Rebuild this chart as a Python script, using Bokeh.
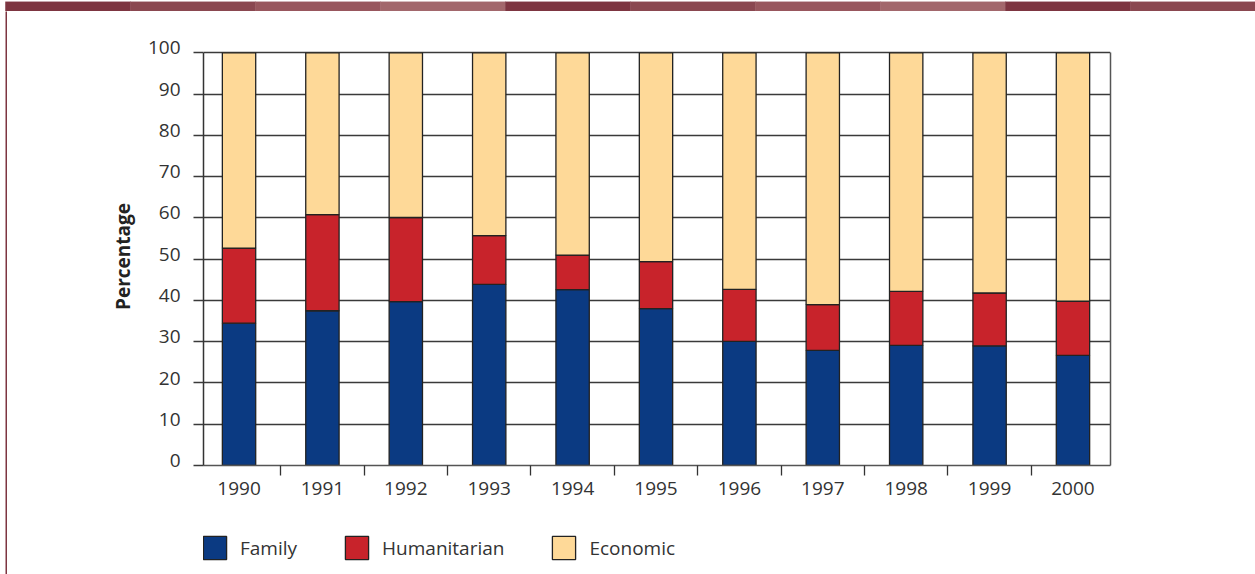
import numpy as np
from bokeh.plotting import figure
from bokeh.models import (Range1d, FixedTicker, LinearAxis, Legend, LegendItem,
                          CustomJSTickFormatter, ColumnDataSource)
from bokeh.layouts import column, row
from bokeh.embed import file_html
from bokeh.resources import INLINE

# ---- data ----
years = ["1990", "1991", "1992", "1993", "1994", "1995", "1996", "1997", "1998", "1999", "2000"]
family = [34.5, 37.5, 39.7, 43.9, 42.6, 38.0, 30.1, 27.9, 29.1, 29.0, 26.7]
humanitarian = [18.2, 23.3, 20.4, 11.8, 8.4, 11.4, 12.6, 11.1, 13.1, 12.8, 13.1]
economic = [47.3, 39.2, 39.9, 44.3, 49.0, 50.6, 57.3, 61.0, 57.8, 58.2, 60.2]
series_names = ["Family", "Humanitarian", "Economic"]
series_colors = ["#0B3A82", "#C8232B", "#FED998"]
y_ticks = [0, 10, 20, 30, 40, 50, 60, 70, 80, 90, 100]
band_colors = ["#7D3541", "#8A4750", "#98565D", "#A2676C", "#7D3541",
               "#8A4750", "#98565D", "#A2676C", "#7D3541", "#8A4750"]

FONT = "Open Sans"
TXT = "#333333"

# ---- decorative top band ----
band = figure(width=1255, height=11, x_range=Range1d(-0.04, 10), y_range=Range1d(0, 1),
              x_axis_location=None, y_axis_location=None, toolbar_location=None,
              output_backend="svg", min_border=0, outline_line_color=None)
band.grid.visible = False
band.quad(left=list(range(10)), right=[i + 1 for i in range(10)], top=1, bottom=0,
          fill_color=band_colors, line_color=band_colors, line_width=0.5)

# ---- decorative left rule ----
rule = figure(width=2, height=563, x_axis_location=None, y_axis_location=None,
              toolbar_location=None, output_backend="svg", min_border=0,
              outline_line_color=None, border_fill_color="#7D3541",
              background_fill_color="#7D3541", margin=(0, 0, 0, 5))
rule.grid.visible = False

# ---- main chart ----
xs = list(range(len(years)))
data = dict(x=xs, Family=family, Humanitarian=humanitarian, Economic=economic)

p = figure(width=1248, height=500, x_range=Range1d(-0.426, 10.45), y_range=Range1d(0, 101.3),
           toolbar_location=None, output_backend="svg",
           min_border_left=196, min_border_right=145, min_border_top=36, min_border_bottom=46,
           outline_line_color=None, background_fill_color="white", border_fill_color="white")
p.extra_y_ranges = {"labels": Range1d(-1.2, 100.1)}

renderers = p.vbar_stack(series_names, x="x", width=0.4, source=data, color=series_colors,
                         line_color="#222222", line_width=1.3)

# grid
p.xgrid.visible = False
p.ygrid.ticker = FixedTicker(ticks=y_ticks)
p.ygrid.grid_line_color = "#3a3a3a"
p.ygrid.grid_line_width = 1.3

# x axis
xa = p.xaxis[0]
xa.ticker = FixedTicker(ticks=xs, minor_ticks=[i + 0.5 for i in xs[:-1]])
xa.major_label_overrides = {i: y for i, y in zip(xs, years)}
xa.major_tick_out = 10
xa.major_tick_in = 0
xa.major_tick_line_color = None
xa.minor_tick_out = 10
xa.minor_tick_in = 0
xa.minor_tick_line_color = "#333333"
xa.minor_tick_line_width = 1.3
xa.axis_line_color = "#555555"
xa.axis_line_width = 1.5
xa.major_label_standoff = 6
xa.major_label_text_font = FONT
xa.major_label_text_font_size = "19px"
xa.major_label_text_color = TXT

# y axis: ticks + line only
ya = p.yaxis[0]
ya.ticker = FixedTicker(ticks=y_ticks)
ya.bounds = (0, 100)
ya.major_tick_out = 10
ya.major_tick_in = 0
ya.major_tick_line_color = "#3a3a3a"
ya.major_tick_line_width = 1.3
ya.minor_tick_line_color = None
ya.axis_line_color = "#333333"
ya.axis_line_width = 1.5
ya.formatter = CustomJSTickFormatter(code="return ''")
ya.major_label_standoff = 0

# y axis labels (slightly raised)
ylab = LinearAxis(y_range_name="labels", ticker=FixedTicker(ticks=y_ticks),
                  axis_line_color=None, major_tick_line_color=None, minor_tick_line_color=None,
                  major_tick_out=0, major_tick_in=0, major_label_standoff=13,
                  major_label_text_font=FONT, major_label_text_font_size="19px",
                  major_label_text_color=TXT,
                  axis_label="Percentage", axis_label_standoff=9,
                  axis_label_text_font=FONT, axis_label_text_font_size="19px",
                  axis_label_text_font_style="bold", axis_label_text_color="#222222")
p.add_layout(ylab, "left")

# right frame line
rax = LinearAxis(ticker=FixedTicker(ticks=[]), bounds=(0, 100), axis_line_color="#555555",
                 axis_line_width=1.5, major_tick_line_color=None, minor_tick_line_color=None,
                 major_label_text_font_size="0px")
p.add_layout(rax, "right")

# ---- legend strip ----
lg = figure(width=1248, height=63, x_range=Range1d(0, 1), y_range=Range1d(0, 1),
            x_axis_location=None, y_axis_location=None, toolbar_location=None,
            output_backend="svg", min_border_left=196, min_border_right=145,
            min_border_top=0, min_border_bottom=0, outline_line_color=None)
lg.grid.visible = False
leg_src = ColumnDataSource(dict(x=np.array([np.nan]), top=np.array([np.nan])))
leg_renderers = [lg.vbar(x="x", top="top", source=leg_src, width=0.4, fill_color=c,
                         line_color="#222222", line_width=1.3) for c in series_colors]
legend = Legend(items=[LegendItem(label=n, renderers=[r]) for n, r in zip(series_names, leg_renderers)],
                orientation="horizontal", location=(-3, 12), padding=0, margin=0,
                spacing=45, label_standoff=11, glyph_width=29, glyph_height=29,
                border_line_color=None, background_fill_alpha=0,
                label_text_font=FONT, label_text_font_size="19px", label_text_color=TXT)
lg.add_layout(legend, "center")

layout = column(band, row(rule, column(p, lg, spacing=0), spacing=0), spacing=0)

open("out.html", "w").write(file_html(layout, INLINE))
